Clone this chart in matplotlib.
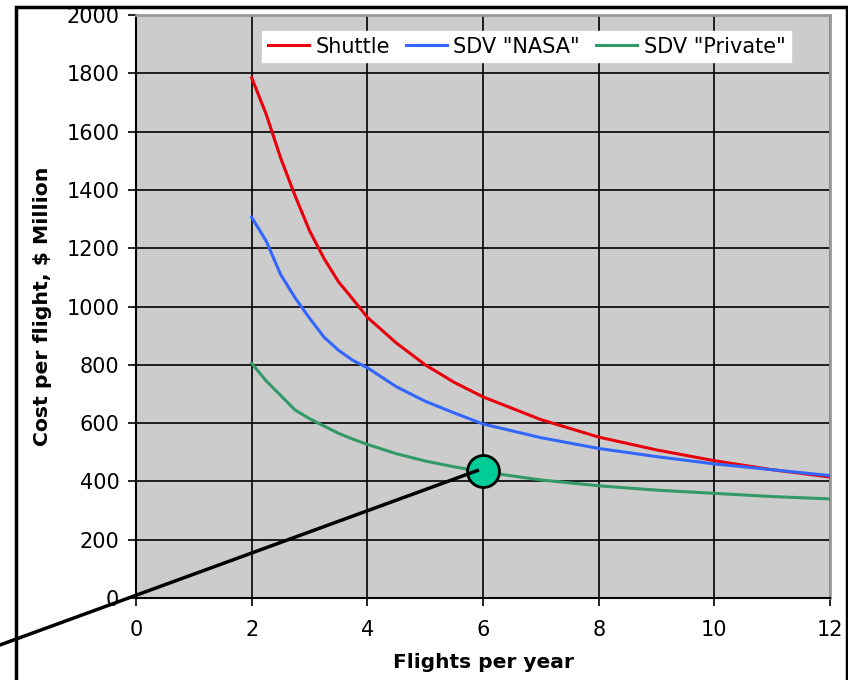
import numpy as np
import matplotlib.pyplot as plt
from matplotlib.patches import Rectangle

# flights per year
flights = [2, 2.25, 2.5, 2.75, 3, 3.25, 3.5, 3.75, 4, 4.5, 5, 5.5, 6, 7, 8, 9, 10, 11, 12]

# cost per flight, $ million
shuttle = [1785, 1660, 1510, 1380, 1260, 1165, 1085, 1025, 963, 875, 800, 740, 690, 612, 552, 508, 471, 440, 415]
sdv_nasa = [1306, 1225, 1110, 1030, 960, 895, 850, 815, 790, 725, 675, 635, 597, 550, 513, 485, 460, 440, 420]
sdv_private = [805, 745, 695, 645, 615, 590, 565, 545, 527, 495, 470, 450, 433, 405, 385, 370, 359, 348, 340]

# highlighted point and the line pointing to it
marker_pt = (6, 437)
pointer_x = [-2.35, 5.9]
pointer_y = [-161, 437]

fig = plt.figure(figsize=(8.48, 6.8), dpi=100)
ax = fig.add_axes([0.1604, 0.1206, 0.8184, 0.8573])
ax.set_facecolor('#cccccc')

ax.plot(flights, shuttle, color='#e8000b', lw=2.2, label='Shuttle', zorder=3)
ax.plot(flights, sdv_nasa, color='#3366ff', lw=2.2, label='SDV "NASA"', zorder=3)
ax.plot(flights, sdv_private, color='#339966', lw=2.2, label='SDV "Private"', zorder=3)

ax.plot([marker_pt[0]], [marker_pt[1]], 'o', ms=23, mfc='#00cc99', mec='black', mew=2, zorder=4)
ax.plot(pointer_x, pointer_y, color='black', lw=2.5, clip_on=False, zorder=5)

ax.set_xlim(0, 12)
ax.set_ylim(0, 2000)
ax.set_xticks(np.arange(0, 13, 2))
ax.set_yticks(np.arange(0, 2001, 200))
ax.grid(True, color='black', lw=1.2)
ax.set_axisbelow(True)
ax.tick_params(axis='both', labelsize=15, length=6, width=1.2, color='black')
ax.tick_params(axis='x', pad=10)
ax.tick_params(axis='y', pad=6)

for s in ['top', 'right']:
    ax.spines[s].set_color('#999999')
    ax.spines[s].set_linewidth(2)
for s in ['left', 'bottom']:
    ax.spines[s].set_color('black')
    ax.spines[s].set_linewidth(1.5)

ax.set_xlabel('Flights per year', fontsize=14.5, fontweight='bold', labelpad=9)
ax.set_ylabel('Cost per flight, $ Million', fontsize=14.7, fontweight='bold', labelpad=10)

leg = ax.legend(loc='upper left', bbox_to_anchor=(0.182, 0.972), ncol=3, fontsize=15,
                frameon=True, fancybox=False, handlelength=2.0, handletextpad=0.3,
                columnspacing=0.75, borderpad=0.25, borderaxespad=0)
leg.get_frame().set_facecolor('white')
leg.get_frame().set_edgecolor('white')
leg.get_frame().set_alpha(1)

fig.patches.append(Rectangle((16 / 848, -0.05), (847 - 16) / 848, 1.05 - 7 / 680,
                             transform=fig.transFigure, fill=False, ec='black', lw=2.5))

fig.savefig('out.png', dpi=100)
